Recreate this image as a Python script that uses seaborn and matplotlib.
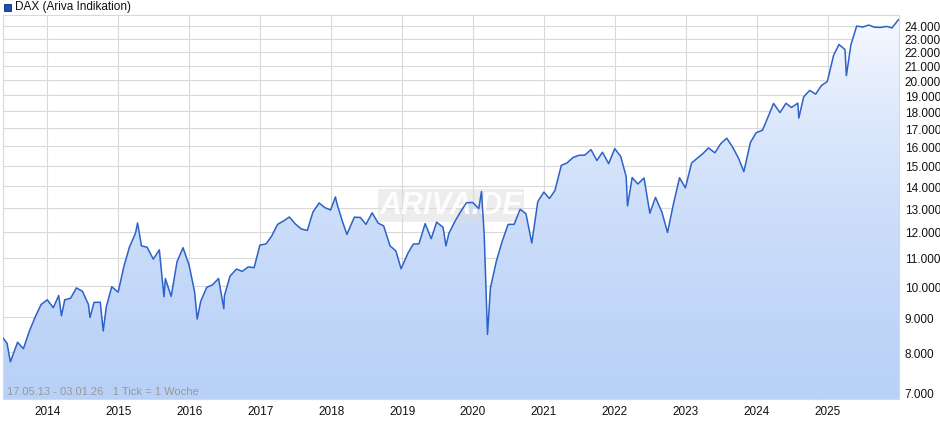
import matplotlib.pyplot as plt
import matplotlib.dates as mdates
import matplotlib.ticker as mticker
import seaborn as sns
import pandas as pd
import numpy as np

sns.set_style("white")
plt.rcParams['font.family'] = ['Liberation Sans', 'DejaVu Sans']

# DAX closing levels (roughly monthly, extra points at swings)
dates = [
    "2013-05-17", "2013-06-07", "2013-06-24", "2013-07-31", "2013-08-30", "2013-09-30", "2013-10-31", "2013-11-29", "2013-12-31",
    "2014-01-31", "2014-02-28", "2014-03-14", "2014-03-31", "2014-04-30", "2014-05-30", "2014-06-30", "2014-07-31", "2014-08-08", "2014-08-29",
    "2014-09-30", "2014-10-15", "2014-10-31", "2014-11-28", "2014-12-31",
    "2015-01-30", "2015-02-27", "2015-03-31", "2015-04-10", "2015-04-30", "2015-05-29", "2015-06-30", "2015-07-31", "2015-08-24",
    "2015-08-31", "2015-09-30", "2015-10-30", "2015-11-30", "2015-12-31",
    "2016-01-29", "2016-02-11", "2016-02-29", "2016-03-31", "2016-04-29", "2016-05-31", "2016-06-27", "2016-06-30", "2016-07-29",
    "2016-08-31", "2016-09-30", "2016-10-31", "2016-11-30", "2016-12-30",
    "2017-01-31", "2017-02-28", "2017-03-31", "2017-04-28", "2017-05-31", "2017-06-30", "2017-07-31", "2017-08-31", "2017-09-29",
    "2017-10-31", "2017-11-30", "2017-12-29",
    "2018-01-23", "2018-01-31", "2018-02-28", "2018-03-23", "2018-04-30", "2018-05-31", "2018-06-29", "2018-07-31", "2018-08-31",
    "2018-09-28", "2018-10-31", "2018-11-30", "2018-12-27",
    "2019-01-31", "2019-02-28", "2019-03-29", "2019-04-30", "2019-05-31", "2019-06-28", "2019-07-31", "2019-08-15", "2019-08-30",
    "2019-09-30", "2019-10-31", "2019-11-29", "2019-12-31",
    "2020-01-31", "2020-02-14", "2020-02-28", "2020-03-16", "2020-03-31", "2020-04-30", "2020-05-29", "2020-06-30", "2020-07-31",
    "2020-08-31", "2020-09-30", "2020-10-30", "2020-11-30", "2020-12-31",
    "2021-01-29", "2021-02-26", "2021-03-31", "2021-04-30", "2021-05-31", "2021-06-30", "2021-07-30", "2021-08-31", "2021-09-30",
    "2021-10-29", "2021-11-30", "2021-12-31",
    "2022-01-31", "2022-02-28", "2022-03-07", "2022-03-31", "2022-04-29", "2022-05-31", "2022-06-30", "2022-07-29", "2022-08-31",
    "2022-09-29", "2022-10-31", "2022-11-30", "2022-12-30",
    "2023-01-31", "2023-02-28", "2023-03-31", "2023-04-28", "2023-05-31", "2023-06-30", "2023-07-31", "2023-08-31", "2023-09-29",
    "2023-10-27", "2023-11-30", "2023-12-29",
    "2024-01-31", "2024-02-29", "2024-03-28", "2024-04-30", "2024-05-31", "2024-06-28", "2024-07-31", "2024-08-05", "2024-08-30",
    "2024-09-30", "2024-10-31", "2024-11-29", "2024-12-30",
    "2025-01-31", "2025-02-28", "2025-03-31", "2025-04-07", "2025-04-30", "2025-05-30", "2025-06-30", "2025-07-31", "2025-08-29",
    "2025-09-30", "2025-10-31", "2025-11-28", "2025-12-30", "2026-01-03",
]
values = [
    8400, 8250, 7750, 8280, 8100, 8600, 9030, 9400, 9550,
    9300, 9690, 9050, 9550, 9600, 9940, 9830, 9400, 9000, 9470,
    9470, 8600, 9330, 9980, 9800,
    10700, 11400, 11970, 12370, 11450, 11400, 10950, 11300, 9650,
    10260, 9660, 10850, 11380, 10740,
    9800, 8950, 9500, 9960, 10040, 10260, 9270, 9680, 10340,
    10590, 10510, 10670, 10640, 11480,
    11530, 11830, 12310, 12440, 12620, 12330, 12120, 12060, 12830,
    13230, 13020, 12920,
    13500, 13190, 12430, 11900, 12610, 12600, 12310, 12800, 12360,
    12250, 11450, 11260, 10600,
    11170, 11520, 11530, 12340, 11730, 12400, 12190, 11450, 11940,
    12430, 12870, 13240, 13250,
    12980, 13750, 11890, 8500, 9940, 10860, 11590, 12310, 12310,
    12950, 12760, 11560, 13290, 13720,
    13430, 13790, 15010, 15140, 15420, 15530, 15540, 15830, 15260,
    15690, 15100, 15880,
    15470, 14460, 13100, 14410, 14100, 14390, 12780, 13480, 12830,
    11980, 13250, 14400, 13920,
    15130, 15370, 15630, 15920, 15660, 16150, 16450, 15950, 15390,
    14700, 16220, 16750,
    16900, 17680, 18490, 17930, 18500, 18240, 18510, 17600, 18900,
    19320, 19080, 19630, 19910,
    21730, 22550, 22160, 20300, 22500, 23990, 23910, 24070, 23900,
    23880, 23960, 23840, 24490, 24540,
]
years = list(range(2014, 2026))
df = pd.DataFrame({"Datum": pd.to_datetime(dates), "DAX": values})

fig = plt.figure(figsize=(9.4, 4.35), dpi=100)
ax = fig.add_axes([3 / 940, 35 / 435, 896 / 940, 384 / 435])

x0, x1 = pd.Timestamp("2013-05-17"), pd.Timestamp("2026-01-03")
ymin, ymax = 6840, 24900
ax.set_yscale("log")
ax.set_xlim(x0, x1)
ax.set_ylim(ymin, ymax)

# gradient fill under the line
poly = ax.fill_between(df["Datum"], df["DAX"], ymin, color="none")
grad = np.linspace(0, 1, 256).reshape(-1, 1)
cmap = sns.blend_palette(["#b9d1f7", "#f7f9ff"], as_cmap=True)
img = ax.imshow(grad, cmap=cmap, aspect="auto", origin="lower",
                extent=[mdates.date2num(x0), mdates.date2num(x1), ymin, ymax], zorder=1)
img.set_clip_path(poly.get_paths()[0], transform=ax.transData)

sns.lineplot(data=df, x="Datum", y="DAX", ax=ax, color="#2d62c6", linewidth=1.1, zorder=3)

# grid
ax.yaxis.set_major_locator(mticker.FixedLocator(np.arange(7000, 25000, 1000)))
ax.yaxis.set_minor_locator(mticker.NullLocator())
ax.yaxis.set_major_formatter(mticker.FuncFormatter(lambda v, p: f"{int(v):,}".replace(",", ".")))
ax.set_xticks([pd.Timestamp(f"{y}-01-01") for y in years])
ax.set_xticklabels([str(y) for y in years])
ax.grid(True, color="#d9d9d9", linewidth=0.8, zorder=0)
ax.set_axisbelow(True)
ax.yaxis.tick_right()
ax.tick_params(length=0, labelsize=8.5, colors="#111111", pad=4)
ax.set_xlabel("")
ax.set_ylabel("")
for s in ax.spines.values():
    s.set_color("#d9d9d9")
    s.set_linewidth(0.8)

ax.text(0.5, 0.505, "ARIVA.DE", transform=ax.transAxes, ha="center", va="center",
        fontsize=22, color="white", alpha=0.9, style="italic", fontweight="bold", zorder=2,
        bbox=dict(facecolor="#dcdcdc", edgecolor="none", alpha=0.5, pad=1))
ax.text(0.005, 0.012, "17.05.13 - 03.01.26   1 Tick = 1 Woche", transform=ax.transAxes,
        fontsize=8, color="#999999", zorder=4)

fig.patches.append(plt.Rectangle((4 / 940, 1 - 12 / 435), 7 / 940, 7 / 435, transform=fig.transFigure,
                                 facecolor="#1f4fb5", edgecolor="#0d2a66", linewidth=0.6))
fig.text(15 / 940, 1 - 7 / 435, "DAX (Ariva Indikation)", fontsize=8.5, va="center", color="#111111")

fig.savefig("out.png", dpi=100)
